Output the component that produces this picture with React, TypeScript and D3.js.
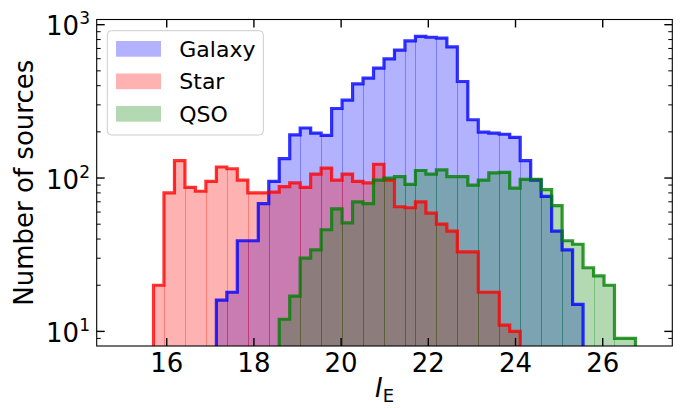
import * as d3 from "d3";

// histogram bins (shared edges)
const binStart = 15.697;
const binWidth = 0.2403;

const galaxyStart = 6;
const galaxyCounts = [
  16, 18, 39, 39, 68, 95, 134, 191, 212, 196, 190, 284, 322, 411, 448, 521,
  598, 683, 785, 840, 828, 817, 716, 426, 240, 199, 196, 193, 184, 130, 97,
  76, 45, 34, 15,
];

const starStart = 0;
const starCounts = [
  20, 80, 130, 87, 82, 95, 118, 115, 97, 80, 80, 81, 88, 93, 87, 106, 116,
  97, 106, 95, 93, 123, 97, 65, 64, 70, 59, 50, 45, 33, 33, 18, 18, 11, 10,
];

const qsoStart = 12;
const qsoCounts = [
  12, 17, 30, 34, 46, 63, 51, 70, 68, 97, 100, 102, 91, 112, 106, 113, 102,
  102, 90, 97, 108, 109, 86, 98, 98, 84, 66, 39, 37, 26, 23, 20, 9, 9,
];

// bin edges where the overlapping bar seams show up darker in the original
const seamEdges = [1, 3, 5, 7, 9, 11, 14, 16, 18, 20, 22, 24, 25, 27, 29, 31, 33, 35, 37, 39, 42, 44];

const xTicks = [16, 18, 20, 22, 24, 26];
const yMajor = [10, 100, 1000];
const yExponents = ["1", "2", "3"];

const series = [
  { name: "Galaxy", color: "#0000ff", start: galaxyStart, counts: galaxyCounts },
  { name: "Star", color: "#ff0000", start: starStart, counts: starCounts },
  { name: "QSO", color: "#008000", start: qsoStart, counts: qsoCounts },
];

const W = 684;
const H = 408;
const plot = { left: 96.7, right: 672.3, top: 19.5, bottom: 346 };
const font = "DejaVu Sans";

export default function App() {
  const x = d3.scaleLinear().domain([14.394, 27.596]).range([plot.left, plot.right]);
  const y = d3.scaleLog().domain([8.03, 1081]).range([plot.bottom, plot.top]);

  const edge = (i: number) => x(binStart + i * binWidth);

  // minor ticks on the log axis
  const yMinor: number[] = [9];
  [10, 100].forEach((d) => {
    for (let k = 2; k <= 9; k++) yMinor.push(d * k);
  });

  const stepLine = d3.line<[number, number]>();

  const stepPath = (start: number, counts: number[]) => {
    const pts: [number, number][] = [[edge(start), plot.bottom + 5]];
    counts.forEach((c, i) => {
      pts.push([edge(start + i), y(c)]);
      pts.push([edge(start + i + 1), y(c)]);
    });
    pts.push([edge(start + counts.length), plot.bottom + 5]);
    return stepLine(pts) as string;
  };

  const legendRows = [41, 73.5, 106];

  return (
    <svg
      width={W}
      height={H}
      style={{ position: "absolute", left: 0, top: 0, background: "#fff" }}
      fontFamily={font}
    >
      <defs>
        <clipPath id="plotClip">
          <rect
            x={plot.left}
            y={plot.top}
            width={plot.right - plot.left}
            height={plot.bottom - plot.top}
          />
        </clipPath>
      </defs>

      <g clipPath="url(#plotClip)">
        {series.map((s) => (
          <g key={s.name + "-bars"}>
            {s.counts.map((c, i) => (
              <rect
                key={i}
                x={edge(s.start + i)}
                y={y(c)}
                width={edge(s.start + i + 1) - edge(s.start + i)}
                height={plot.bottom + 5 - y(c)}
                fill={s.color}
                fillOpacity={0.3}
                shapeRendering="crispEdges"
              />
            ))}
            {seamEdges
              .filter((k) => k > s.start && k < s.start + s.counts.length)
              .map((k) => {
                const top = Math.min(s.counts[k - s.start - 1], s.counts[k - s.start]);
                return (
                  <line
                    key={"seam" + k}
                    x1={Math.round(edge(k)) + 0.5}
                    x2={Math.round(edge(k)) + 0.5}
                    y1={plot.bottom + 5}
                    y2={y(top)}
                    stroke={s.color}
                    strokeOpacity={0.3}
                    strokeWidth={1}
                  />
                );
              })}
          </g>
        ))}
        {series.map((s) => (
          <path
            key={s.name + "-step"}
            d={stepPath(s.start, s.counts)}
            fill="none"
            stroke={s.color}
            strokeOpacity={0.8}
            strokeWidth={3.2}
            strokeLinejoin="miter"
          />
        ))}
      </g>

      {/* frame */}
      <rect
        x={plot.left}
        y={plot.top}
        width={plot.right - plot.left}
        height={plot.bottom - plot.top}
        fill="none"
        stroke="#000"
        strokeWidth={1.1}
      />

      {/* x ticks */}
      {xTicks.map((t) => (
        <g key={"x" + t}>
          <line x1={x(t)} x2={x(t)} y1={plot.bottom} y2={plot.bottom - 8} stroke="#000" strokeWidth={1.4} />
          <line x1={x(t)} x2={x(t)} y1={plot.top} y2={plot.top + 8} stroke="#000" strokeWidth={1.4} />
          <text x={x(t)} y={372} fontSize={26} textAnchor="middle" fill="#000">
            {t}
          </text>
        </g>
      ))}

      {/* y ticks */}
      {yMajor.map((t, i) => (
        <g key={"y" + t}>
          <line x1={plot.left} x2={plot.left + 8} y1={y(t)} y2={y(t)} stroke="#000" strokeWidth={1.4} />
          <line x1={plot.right} x2={plot.right - 8} y1={y(t)} y2={y(t)} stroke="#000" strokeWidth={1.4} />
          <text x={90} y={y(t) + 10.5} fontSize={26} textAnchor="end" fill="#000">
            <tspan>10</tspan>
            <tspan fontSize={17} dy={-11}>
              {yExponents[i]}
            </tspan>
          </text>
        </g>
      ))}
      {yMinor.map((t) => (
        <g key={"ym" + t}>
          <line x1={plot.left} x2={plot.left + 4} y1={y(t)} y2={y(t)} stroke="#000" strokeWidth={1} />
          <line x1={plot.right} x2={plot.right - 4} y1={y(t)} y2={y(t)} stroke="#000" strokeWidth={1} />
        </g>
      ))}

      {/* axis labels */}
      <text
        transform={`translate(33.3,${(plot.top + plot.bottom) / 2}) rotate(-90)`}
        fontSize={26}
        textAnchor="middle"
        fill="#000"
      >
        Number of sources
      </text>
      <text x={(plot.left + plot.right) / 2} y={397} fontSize={26} textAnchor="middle" fill="#000">
        <tspan fontStyle="italic">I</tspan>
        <tspan fontSize={18} dy={5}>
          E
        </tspan>
      </text>

      {/* legend */}
      <rect x={107.3} y={30.7} width={156} height={104.3} rx={4} fill="#fff" fillOpacity={0.8} stroke="#cccccc" strokeWidth={1} />
      {series.map((s, i) => (
        <g key={"leg" + s.name}>
          <rect x={116} y={legendRows[i]} width={45} height={15.7} fill={s.color} fillOpacity={0.3} />
          <text x={179.3} y={legendRows[i] + 7.85 + 8} fontSize={22} fill="#000">
            {s.name}
          </text>
        </g>
      ))}
    </svg>
  );
}
